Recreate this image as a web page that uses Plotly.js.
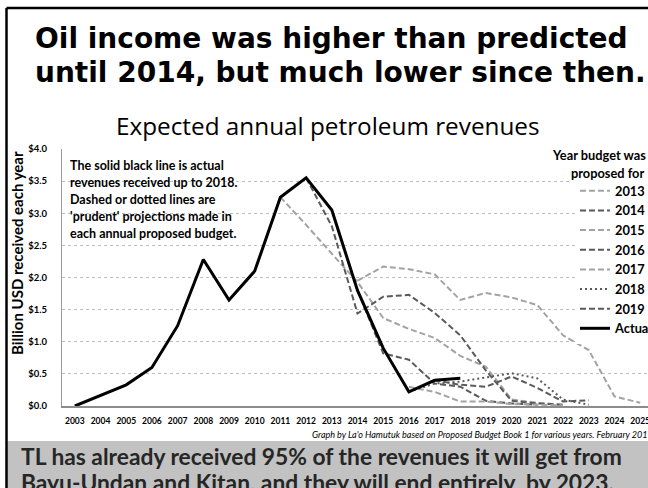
<!DOCTYPE html>
<html>
<head>
<meta charset="utf-8">
<script src="https://cdn.plot.ly/plotly-3.0.1.min.js"></script>
<style>
  html, body { margin: 0; padding: 0; overflow: hidden; background: #fff; }
  #chart { width: 700px; height: 488px; }
</style>
</head>
<body>
<div id="chart"></div>
<script>
// ---------- data (billion USD), aligned to the year categories ----------
const years = ['2003','2004','2005','2006','2007','2008','2009','2010','2011','2012','2013','2014',
               '2015','2016','2017','2018','2019','2020','2021','2022','2023','2024','2025'];
const actual     = [0, 0.17, 0.33, 0.6, 1.25, 2.28, 1.65, 2.1, 3.25, 3.55, 3.05, 1.8, 0.9, 0.22, 0.4, 0.43,
                    null, null, null, null, null, null, null];
const budget2013 = [null, null, null, null, null, null, null, null, 3.25, 2.82, 2.37, 1.93, 1.37, 1.2, 1.06, 0.78,
                    0.61, 0.1, 0.05, 0.02, null, null, null];
const budget2014 = [null, null, null, null, null, null, null, null, null, 3.55, 2.8, 1.44, 1.7, 1.73, 1.45, 1.1,
                    0.55, 0.08, 0.04, 0.02, null, null, null];
const budget2015 = [null, null, null, null, null, null, null, null, null, null, null, 1.95, 2.17, 2.13, 2.05, 1.65,
                    1.76, 1.69, 1.57, 1.1, 0.87, 0.15, 0.05];
const budget2016 = [null, null, null, null, null, null, null, null, null, null, null, 1.8, 0.82, 0.72, 0.35, 0.3,
                    0.08, 0.04, 0.02, null, null, null, null];
const budget2017 = [null, null, null, null, null, null, null, null, null, null, null, null, null, 0.3, 0.22, 0.07,
                    0.07, 0.03, 0.02, 0.01, null, null, null];
const budget2018 = [null, null, null, null, null, null, null, null, null, null, null, null, null, 0.22, 0.35, 0.38,
                    0.45, 0.51, 0.43, 0.1, 0.02, null, null];
const budget2019 = [null, null, null, null, null, null, null, null, null, null, null, null, null, null, 0.4, 0.33,
                    0.3, 0.46, 0.28, 0.07, 0.09, null, null];
const seriesNames = ['2013','2014','2015','2016','2017','2018','2019','Actual'];

// ---------- styling ----------
const LIGHT = '#a3a3a3', DARK = '#5a5a5a';
const DASH = '6px,3px', DOT = '2px,3px';
const W = 700, H = 488, L = 62, R = 47, T = 149, B = 82;
const px = x => (x - L) / (W - L - R);
const py = y => (H - B - y) / (H - T - B);

function budgetTrace(name, vals, color, dash) {
  return { x: years, y: vals, name: name, type: 'scatter', mode: 'lines',
           line: { color: color, width: 2, dash: dash }, hoverinfo: 'skip' };
}
const traces = [
  budgetTrace(seriesNames[0], budget2013, LIGHT, DASH),
  budgetTrace(seriesNames[1], budget2014, DARK, DASH),
  budgetTrace(seriesNames[2], budget2015, LIGHT, DASH),
  budgetTrace(seriesNames[3], budget2016, DARK, DASH),
  budgetTrace(seriesNames[4], budget2017, LIGHT, DASH),
  budgetTrace(seriesNames[5], budget2018, DARK, DOT),
  budgetTrace(seriesNames[6], budget2019, DARK, DASH),
  { x: years, y: actual, name: seriesNames[7], type: 'scatter', mode: 'lines',
    line: { color: '#000', width: 3 }, hoverinfo: 'skip' }
];

const boldLato = (size, color) => ({ family: 'Lato, Open Sans, sans-serif', size: size, color: color || '#000', weight: 'bold' });

const titleLines = ['Oil income was higher than predicted', 'until 2014, but much lower since then.'];
const titleY = [39, 73];
const infoLines = ['The solid black line is actual', 'revenues received up to 2018.', 'Dashed or dotted lines are',
                   "'prudent' projections made in", 'each annual proposed budget.'];
const infoY = [165, 182, 199, 216, 233];

const annotations = [
  { text: 'Expected annual petroleum revenues', xref: 'paper', yref: 'paper', x: px(328), y: py(125),
    xanchor: 'center', yanchor: 'middle', showarrow: false,
    font: { family: 'Open Sans, sans-serif', size: 24.3, color: '#000' } },
  { text: 'Billion USD received each year', xref: 'paper', yref: 'paper', x: px(17), y: py(253),
    xanchor: 'center', yanchor: 'middle', textangle: -90, showarrow: false, font: boldLato(15) },
  { text: 'Year budget was', xref: 'paper', yref: 'paper', x: px(648), y: py(155),
    xanchor: 'right', yanchor: 'middle', showarrow: false, font: boldLato(12.8), bgcolor: '#fff' },
  { text: 'proposed for', xref: 'paper', yref: 'paper', x: px(646), y: py(173),
    xanchor: 'right', yanchor: 'middle', showarrow: false, font: boldLato(12.8), bgcolor: '#fff' },
  { text: "Graph by La'o Hamutuk based on Proposed Budget Book 1 for various years. February 2019",
    xref: 'paper', yref: 'paper', x: px(655), y: py(434), xanchor: 'right', yanchor: 'middle', showarrow: false,
    font: { family: 'Lato, sans-serif', size: 9, color: '#000', style: 'italic' } },
  { text: 'TL has already received 95% of the revenues it will get from', xref: 'paper', yref: 'paper',
    x: px(19), y: py(456), xanchor: 'left', yanchor: 'middle', showarrow: false, font: boldLato(22.8, '#262626') },
  { text: 'Bayu-Undan and Kitan, and they will end entirely  by 2023.', xref: 'paper', yref: 'paper',
    x: px(19), y: py(482), xanchor: 'left', yanchor: 'middle', showarrow: false, font: boldLato(22.8, '#262626') }
];
titleLines.forEach((t, i) => annotations.push({
  text: '<b>' + t + '</b>', xref: 'paper', yref: 'paper', x: px(33), y: py(titleY[i]), xanchor: 'left',
  yanchor: 'middle', showarrow: false, font: { family: 'DejaVu Sans, sans-serif', size: 28, color: '#000' }
}));
infoLines.forEach((t, i) => annotations.push({
  text: t, xref: 'paper', yref: 'paper', x: px(68), y: py(infoY[i]), xanchor: 'left', yanchor: 'middle',
  showarrow: false, font: boldLato(12.5)
}));

const shapes = [
  // grey footer band
  { type: 'rect', xref: 'paper', yref: 'paper', x0: px(7), x1: px(W + 5), y0: py(441), y1: py(H + 5),
    fillcolor: '#c2c2c2', line: { width: 0 }, layer: 'below' },
  // outer frame (top and left edges)
  { type: 'line', xref: 'paper', yref: 'paper', x0: px(6.5), x1: px(W + 5), y0: py(8), y1: py(8),
    line: { color: '#000', width: 2.5 } },
  { type: 'line', xref: 'paper', yref: 'paper', x0: px(6.5), x1: px(6.5), y0: py(8), y1: py(H + 5),
    line: { color: '#000', width: 2.5 } }
];

const layout = {
  width: W, height: H,
  margin: { l: L, r: R, t: T, b: B },
  paper_bgcolor: '#fff', plot_bgcolor: '#fff',
  showlegend: true,
  legend: { x: px(575), xanchor: 'left', y: py(176), yanchor: 'top', bgcolor: '#fff',
            font: boldLato(12.8), traceorder: 'normal', itemwidth: 30 },
  xaxis: { type: 'category', range: [-0.5, 22.5], showgrid: false, zeroline: false,
           showline: true, linecolor: '#8c8c8c', linewidth: 1.5, ticks: 'outside', ticklen: 6,
           tickcolor: 'rgba(0,0,0,0)', tickangle: 0, tickfont: boldLato(8.5), fixedrange: true },
  yaxis: { range: [0, 4], dtick: 0.5, tick0: 0, tickprefix: '$', tickformat: '.1f',
           showgrid: true, gridcolor: '#bdbdbd', griddash: 'dot', gridwidth: 1, zeroline: false,
           showline: true, linecolor: '#9a9a9a', linewidth: 1, ticks: 'outside', ticklen: 12,
           tickcolor: 'rgba(0,0,0,0)', tickfont: boldLato(9.5), fixedrange: true },
  annotations: annotations,
  shapes: shapes
};

Plotly.newPlot('chart', traces, layout, { staticPlot: true, displayModeBar: false });
</script>
</body>
</html>
